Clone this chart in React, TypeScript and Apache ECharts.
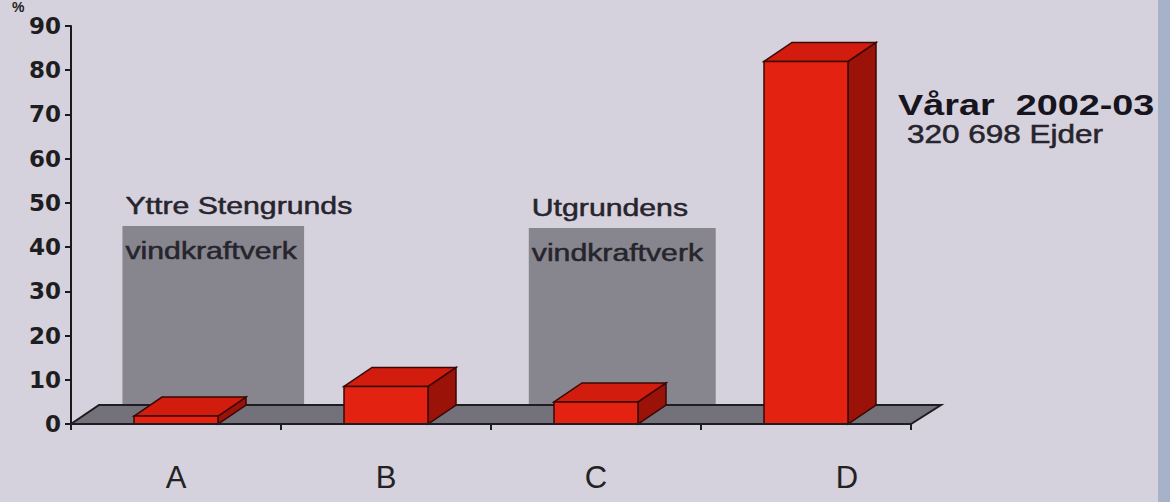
import React, { useEffect, useRef } from "react";
import * as echarts from "echarts";

// ---- data ----
const categories = ["A", "B", "C", "D"];
const values = [1.8, 8.5, 5, 82];
const yMin = 0;
const yMax = 90;
const yInterval = 10;
const zoneCategory = [0, 2];
const zoneStart = [-0.255, -0.32];
const zoneEnd = [0.61, 0.57];
const zoneTop = [44.8, 44.3];
const zoneTitle = ["Yttre Stengrunds", "Utgrundens"];
const zoneSubtitle = ["vindkraftverk", "vindkraftverk"];
const seasonLabel = "Vårar  2002-03";
const countLabel = "320 698 Ejder";
const unitLabel = "%";

const DX = 28;
const DY = -19;
const SX = 1.26;
const FONT = "'Liberation Sans', Arial, sans-serif";

export default function App() {
  const ref = useRef<HTMLDivElement>(null);
  useEffect(() => {
    if (!ref.current) return;
    const chart = echarts.init(ref.current, null, { renderer: "svg" });
    const option: any = {
      animation: false,
      backgroundColor: "#d5d1dd",
      grid: { left: 71, right: 259, top: 26, bottom: 78 },
      xAxis: {
        type: "category",
        data: categories,
        boundaryGap: true,
        axisLine: { show: true, lineStyle: { color: "#1e1e22", width: 2 } },
        axisTick: { show: true, length: 6, lineStyle: { color: "#1e1e22", width: 2 } },
        axisLabel: {
          margin: 38,
          fontSize: 31,
          fontFamily: FONT,
          color: "#222",
          formatter: (v: string) => (v === "D" ? "{d|D}" : v),
          rich: {
            d: { fontSize: 31, fontFamily: FONT, color: "#222", padding: [0, 0, 0, 82] },
          },
        },
        splitLine: { show: false },
        z: 5,
      },
      yAxis: {
        type: "value",
        min: yMin,
        max: yMax,
        interval: yInterval,
        axisLine: { show: true, lineStyle: { color: "#1a1a1a", width: 2 } },
        axisTick: { show: true, length: 6, lineStyle: { color: "#1a1a1a", width: 2 } },
        axisLabel: {
          margin: 10,
          fontSize: 23,
          fontWeight: "bold",
          fontFamily: "'DejaVu Sans', sans-serif",
          color: "#1e1e1e",
        },
        splitLine: { show: false },
      },
      series: [
        {
          type: "custom",
          z: 1,
          clip: false,
          data: zoneCategory.map((c, i) => [c, zoneTop[i], zoneStart[i], zoneEnd[i], i]),
          encode: { x: 0, y: 1 },
          renderItem: (params: any, api: any) => {
            const c = api.value(0);
            const top = api.value(1);
            const s = api.value(2);
            const e = api.value(3);
            const idx = api.value(4);
            const band = api.size([1, 0])[0];
            const [cx, yTop] = api.coord([c, top]);
            const [, y0] = api.coord([c, 0]);
            const xl = cx + s * band;
            const xr = cx + e * band;
            const txt = (text: string, y: number) => ({
              type: "text",
              x: xl + 3,
              y,
              scaleX: SX,
              style: {
                text,
                fontSize: 24,
                fontFamily: FONT,
                fill: "#26242c",
                stroke: "#26242c",
                lineWidth: 0.5,
                verticalAlign: "top",
              },
            });
            return {
              type: "group",
              children: [
                {
                  type: "rect",
                  shape: { x: xl, y: yTop, width: xr - xl, height: y0 + DY - yTop + 2 },
                  style: { fill: "#87858d" },
                },
                txt(zoneTitle[idx], yTop - 32),
                txt(zoneSubtitle[idx], yTop + 13),
              ],
            };
          },
        },
        {
          type: "custom",
          z: 2,
          clip: false,
          data: [[0, 0]],
          encode: { x: 0, y: 1 },
          renderItem: (params: any, api: any) => {
            const cs = params.coordSys;
            const y0 = cs.y + cs.height;
            const x0 = cs.x;
            const x1 = cs.x + cs.width;
            return {
              type: "polygon",
              shape: {
                points: [
                  [x0, y0],
                  [x1, y0],
                  [x1 + DX + 2, y0 + DY],
                  [x0 + DX, y0 + DY],
                ],
              },
              style: { fill: "#737179", stroke: "#1e1e22", lineWidth: 2 },
            };
          },
        },
        {
          type: "custom",
          z: 3,
          clip: false,
          data: values.map((v, i) => [i, v]),
          encode: { x: 0, y: 1 },
          renderItem: (params: any, api: any) => {
            const c = api.value(0);
            const v = api.value(1);
            const [cx, yTop] = api.coord([c, v]);
            const [, y0] = api.coord([c, 0]);
            const w = api.size([1, 0])[0] * 0.4;
            const x0 = cx - w / 2;
            const x1 = cx + w / 2;
            const stroke = "#3a0806";
            return {
              type: "group",
              children: [
                {
                  type: "polygon",
                  shape: {
                    points: [
                      [x1, yTop],
                      [x1 + DX, yTop + DY],
                      [x1 + DX, y0 + DY],
                      [x1, y0],
                    ],
                  },
                  style: { fill: "#9a1208", stroke, lineWidth: 1.5 },
                },
                {
                  type: "polygon",
                  shape: {
                    points: [
                      [x0, yTop],
                      [x0 + DX, yTop + DY],
                      [x1 + DX, yTop + DY],
                      [x1, yTop],
                    ],
                  },
                  style: { fill: "#d21c0e", stroke, lineWidth: 1.5 },
                },
                {
                  type: "rect",
                  shape: { x: x0, y: yTop, width: w, height: y0 - yTop },
                  style: { fill: "#e42212", stroke, lineWidth: 1.5 },
                },
              ],
            };
          },
        },
      ],
      graphic: [
        {
          type: "text",
          x: 12,
          y: 0,
          style: {
            text: unitLabel,
            fontSize: 14,
            fontWeight: "bold",
            fontFamily: FONT,
            fill: "#222",
            verticalAlign: "top",
          },
        },
        {
          type: "text",
          x: 898,
          y: 89,
          scaleX: SX,
          style: {
            text: seasonLabel,
            fontSize: 30,
            fontWeight: "bold",
            fontFamily: FONT,
            fill: "#16141c",
            verticalAlign: "top",
          },
        },
        {
          type: "text",
          x: 907,
          y: 122,
          scaleX: SX,
          style: {
            text: countLabel,
            fontSize: 25,
            fontFamily: FONT,
            fill: "#26242c",
            stroke: "#26242c",
            lineWidth: 0.5,
            verticalAlign: "top",
          },
        },
        {
          type: "rect",
          z: 100,
          shape: { x: 1158, y: 0, width: 12, height: 502 },
          style: { fill: "#a5b2c9" },
        },
      ],
    };
    chart.setOption(option);
    return () => chart.dispose();
  }, []);
  return (
    <div
      ref={ref}
      style={{ position: "fixed", left: 0, top: 0, width: 1170, height: 502 }}
    />
  );
}
